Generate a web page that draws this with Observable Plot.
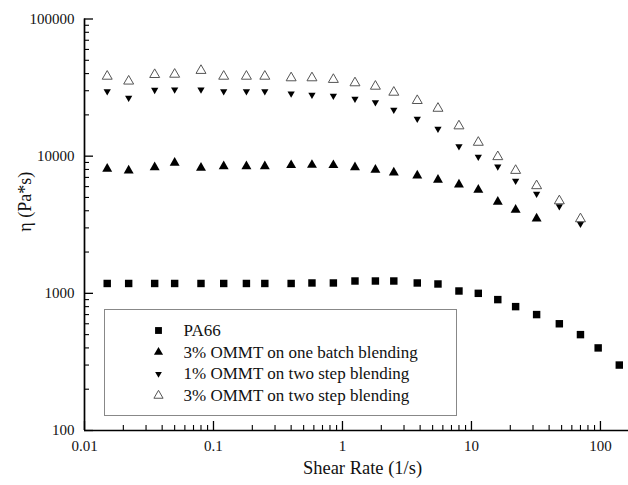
<!DOCTYPE html>
<html>
<head>
<meta charset="utf-8">
<script src="https://cdn.jsdelivr.net/npm/d3@7"></script>
<script src="https://cdn.jsdelivr.net/npm/@observablehq/plot@0.6"></script>
<style>
  html, body { margin: 0; padding: 0; background: #fff; }
  #chart svg { display: block; }
  #chart svg, #chart svg text {
    font-family: "Liberation Serif", Tinos, "Times New Roman", "DejaVu Serif", "Noto Serif", serif !important;
  }
</style>
</head>
<body>
<div id="chart"></div>
<script>
// Shear rates (1/s) shared by all samples
const shearRate = [0.015, 0.022, 0.035, 0.05, 0.08, 0.12, 0.18, 0.25, 0.4, 0.58,
                   0.85, 1.25, 1.8, 2.5, 3.8, 5.5, 8, 11.3, 16, 22, 32, 48, 70, 96, 140];

// Viscosity η (Pa*s) of each sample
const pa66 = [1180, 1180, 1180, 1180, 1180, 1180, 1180, 1180, 1180, 1190,
              1190, 1230, 1230, 1230, 1190, 1170, 1040, 1000, 900, 800, 700, 600, 500, 400, 300];
const oneBatch3 = [8080, 7860, 8300, 8940, 8220, 8440, 8440, 8440, 8590, 8630,
                   8590, 8300, 7950, 7590, 7220, 6720, 6210, 5680, 4650, 4060, 3510];
const twoStep1 = [29700, 26600, 30400, 30600, 30600, 29700, 29700, 29700, 28600, 28000,
                  27500, 26200, 24700, 21800, 18700, 15800, 11800, 9880, 8400, 6600, 5310, 4310, 3210];
const twoStep3 = [38200, 35200, 39300, 39500, 42100, 38200, 38200, 38200, 37200, 37200,
                  36200, 34200, 32300, 29200, 25400, 22300, 16600, 12600, 9900, 7860, 6080, 4720, 3490];

const seriesNames = [
  "PA66",
  "3% OMMT on one batch blending",
  "1% OMMT on two step blending",
  "3% OMMT on two step blending"
];

// Axis ticks and labels
const xDomain = [0.01, 165];
const yDomain = [100, 100000];
const xTicks = [0.01, 0.1, 1, 10, 100];
const xTickLabels = ["0.01", "0.1", "1", "10", "100"];
const yTicks = [100, 1000, 10000, 100000];
const yTickLabels = ["100", "1000", "10000", "100000"];
const xTitle = "Shear Rate (1/s)";
const yTitle = "η (Pa*s)";

// Layout
const W = 628, H = 485;
const mL = 84, mR = 0, mT = 18.5, mB = 55;
const fw = W - mL - mR, fh = H - mT - mB;
const font = "Liberation Serif, Tinos, Times New Roman, DejaVu Serif, serif";

// Minor ticks at 2..9 of each decade inside the domain
function minorTicks([lo, hi]) {
  const out = [];
  for (let e = Math.floor(Math.log10(lo)); e <= Math.ceil(Math.log10(hi)); e++) {
    for (let k = 2; k <= 9; k++) {
      const v = k * Math.pow(10, e);
      if (v > lo && v < hi) out.push(v);
    }
  }
  return out;
}

// Downward-pointing triangle symbol
const triangleDown = {
  draw(context, size) {
    const y = -Math.sqrt(size / (Math.sqrt(3) * 3));
    context.moveTo(0, -y * 2);
    context.lineTo(-Math.sqrt(3) * y, y);
    context.lineTo(Math.sqrt(3) * y, y);
    context.closePath();
  }
};

const styles = [
  {values: pa66,      symbol: "square",   r: 4.2, fill: "#000", stroke: "none", strokeWidth: 0},
  {values: oneBatch3, symbol: "triangle", r: 3.7, fill: "#000", stroke: "none", strokeWidth: 0},
  {values: twoStep1,  symbol: triangleDown, r: 2.7, fill: "#000", stroke: "none", strokeWidth: 0},
  {values: twoStep3,  symbol: "triangle", r: 3.7, fill: "none", stroke: "#555", strokeWidth: 1}
];

const dataMarks = styles.map((s) =>
  Plot.dot(s.values.map((v, i) => ({x: shearRate[i], y: v})), {
    x: "x", y: "y", symbol: s.symbol, r: s.r,
    fill: s.fill, stroke: s.stroke, strokeWidth: s.strokeWidth
  })
);

const rowY0 = 311.5, rowGap = 21.7;
const legendMarks = styles.flatMap((s, i) => [
  Plot.dot([seriesNames[i]], {
    x: null, y: null, frameAnchor: "top-left", dx: 74, dy: rowY0 + i * rowGap,
    symbol: s.symbol, r: s.r * 0.92, fill: s.fill, stroke: s.stroke, strokeWidth: s.strokeWidth
  }),
  Plot.text([seriesNames[i]], {
    x: null, y: null, text: (d) => d, frameAnchor: "top-left", dx: 99, dy: rowY0 + i * rowGap,
    textAnchor: "start", lineAnchor: "middle", fontSize: 17, fontFamily: font, fill: "#111"
  })
]);

const chart = Plot.plot({
  width: W, height: H,
  marginLeft: mL, marginRight: mR, marginTop: mT, marginBottom: mB,
  style: {fontFamily: font, fontSize: "15px", color: "#111", background: "#fff", overflow: "visible"},
  x: {type: "log", domain: xDomain, axis: null},
  y: {type: "log", domain: yDomain, axis: null},
  marks: [
    // Axis lines
    Plot.ruleY([yDomain[0]], {stroke: "#000", strokeWidth: 1.7}),
    Plot.ruleX([xDomain[0]], {stroke: "#000", strokeWidth: 1.7}),
    // Inward ticks, major and minor
    Plot.ruleX(xTicks, {x: (d) => d, insetTop: fh - 9, stroke: "#000", strokeWidth: 1.3}),
    Plot.ruleX(minorTicks(xDomain), {x: (d) => d, insetTop: fh - 5, stroke: "#000", strokeWidth: 1.1}),
    Plot.ruleY(yTicks, {y: (d) => d, insetRight: fw - 9, stroke: "#000", strokeWidth: 1.3}),
    Plot.ruleY(minorTicks(yDomain), {y: (d) => d, insetRight: fw - 5, stroke: "#000", strokeWidth: 1.1}),
    // Tick labels
    Plot.axisX(xTicks, {tickSize: 0, tickPadding: 10, fontSize: 15, fontFamily: font,
      tickFormat: (d) => xTickLabels[xTicks.indexOf(d)], label: null}),
    Plot.axisY(yTicks, {tickSize: 0, tickPadding: 10, fontSize: 15, fontFamily: font,
      tickFormat: (d) => yTickLabels[yTicks.indexOf(d)], label: null}),
    // Axis titles
    Plot.text([xTitle], {x: null, y: null, text: (d) => d, frameAnchor: "bottom",
      dx: 6, dy: 38, fontSize: 18.5, fontFamily: font, lineAnchor: "middle", fill: "#111"}),
    Plot.text([yTitle], {x: null, y: null, text: (d) => d, frameAnchor: "left", rotate: -90,
      dx: -59, dy: 7, fontSize: 18, fontFamily: font, lineAnchor: "middle", fill: "#111"}),
    // Legend box
    Plot.frame({insetLeft: 20, insetTop: 290.5, insetRight: 172, insetBottom: 15,
      stroke: "#888", strokeWidth: 1}),
    ...legendMarks,
    ...dataMarks
  ]
});

document.getElementById("chart").append(chart);
</script>
</body>
</html>
